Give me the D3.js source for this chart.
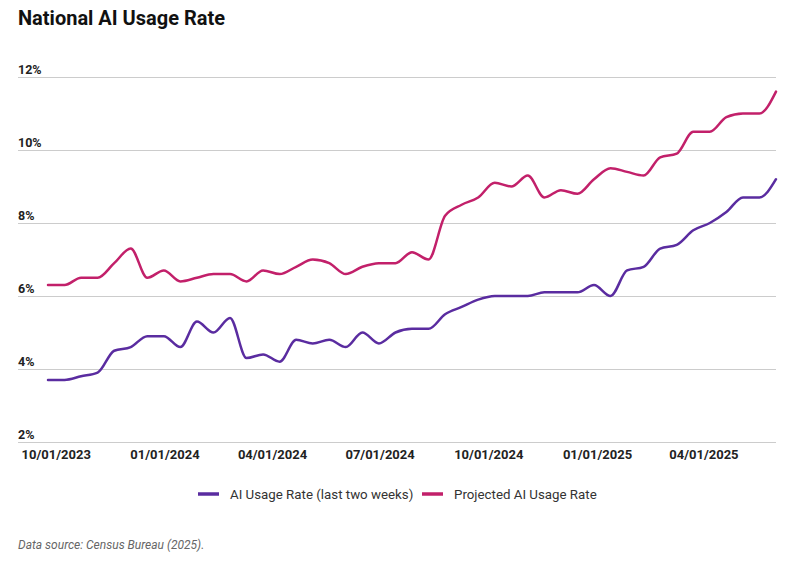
<!DOCTYPE html>
<html lang="en">
    <head>
        <meta charset="utf-8">
        <title>National AI Usage Rate</title>
        <script src="https://d3js.org/d3.v7.min.js"></script>
        <style>
            body { margin: 0; background: #fff; font-family: Roboto, "Noto Sans", sans-serif; }
        </style>
    </head>
    <body>
        <script type="text/javascript">

            var w = 789;
            var h = 565;

            // biweekly survey periods
            var dates = [
                "2023-09-24","2023-10-08","2023-10-22","2023-11-05","2023-11-19","2023-12-03","2023-12-17","2023-12-31",
                "2024-01-14","2024-01-28","2024-02-11","2024-02-25","2024-03-10","2024-03-24","2024-04-07","2024-04-21",
                "2024-05-05","2024-05-19","2024-06-02","2024-06-16","2024-06-30","2024-07-14","2024-07-28","2024-08-11",
                "2024-08-25","2024-09-08","2024-09-22","2024-10-06","2024-10-20","2024-11-03","2024-11-17","2024-12-01",
                "2024-12-15","2024-12-29","2025-01-12","2025-01-26","2025-02-09","2025-02-23","2025-03-09","2025-03-23",
                "2025-04-06","2025-04-20","2025-05-04","2025-05-18","2025-06-01"
            ];

            var usage = [3.7,3.7,3.8,3.9,4.5,4.6,4.9,4.9,4.6,5.3,
                         5.0,5.4,4.3,4.4,4.2,4.8,4.7,4.8,4.6,5.0,
                         4.7,5.0,5.1,5.1,5.5,5.7,5.9,6.0,6.0,6.0,
                         6.1,6.1,6.1,6.3,6.0,6.7,6.8,7.3,7.4,7.8,
                         8.0,8.3,8.7,8.7,9.2];

            var projected = [6.3,6.3,6.5,6.5,6.9,7.3,6.5,6.7,6.4,6.5,
                             6.6,6.6,6.4,6.7,6.6,6.8,7.0,6.9,6.6,6.8,
                             6.9,6.9,7.2,7.0,8.2,8.5,8.7,9.1,9.0,9.3,
                             8.7,8.9,8.8,9.2,9.5,9.4,9.3,9.8,9.9,10.5,
                             10.5,10.9,11.0,11.0,11.6];

            var yTicks = [2, 4, 6, 8, 10, 12];
            var xTicks = ["2023-10-01","2024-01-01","2024-04-01","2024-07-01","2024-10-01","2025-01-01","2025-04-01"];

            var seriesNames = ["AI Usage Rate (last two weeks)", "Projected AI Usage Rate"];
            var seriesColors = ["#5a2ca0", "#c2206a"];

            var parse = d3.timeParse("%Y-%m-%d");
            var fmt = d3.timeFormat("%m/%d/%Y");

            var svg = d3.select("body")
                        .append("svg")
                        .attr("width", w)
                        .attr("height", h);

            // title
            svg.append("text")
               .attr("x", 18)
               .attr("y", 25)
               .attr("font-size", 20)
               .attr("font-weight", 700)
               .attr("fill", "#111")
               .text("National AI Usage Rate");

            var x = d3.scaleTime()
                      .domain([parse(dates[0]), parse(dates[dates.length - 1])])
                      .range([48, 776]);

            var y = d3.scaleLinear()
                      .domain([2, 12])
                      .range([442, 77]);

            // gridlines + y labels
            var yAxis = svg.append("g");
            yAxis.selectAll("line")
                 .data(yTicks)
                 .enter()
                 .append("line")
                 .attr("x1", 18)
                 .attr("x2", 776)
                 .attr("y1", function(d) { return Math.round(y(d)) + 0.5; })
                 .attr("y2", function(d) { return Math.round(y(d)) + 0.5; })
                 .attr("stroke", "#cccccc")
                 .attr("stroke-width", 1);

            yAxis.selectAll("text")
                 .data(yTicks)
                 .enter()
                 .append("text")
                 .attr("x", 18)
                 .attr("y", function(d) { return y(d) - 3; })
                 .attr("font-size", 12.5)
                 .attr("font-weight", 700)
                 .attr("fill", "#222")
                 .text(function(d) { return d + "%"; });

            // x labels
            svg.append("g")
               .selectAll("text")
               .data(xTicks)
               .enter()
               .append("text")
               .attr("x", function(d) { return x(parse(d)); })
               .attr("y", 459)
               .attr("text-anchor", "middle")
               .attr("font-size", 13)
               .attr("font-weight", 700)
               .attr("fill", "#222")
               .text(function(d) { return fmt(parse(d)); });

            var line = d3.line()
                         .x(function(d, i) { return x(parse(dates[i])); })
                         .y(function(d) { return y(d); })
                         .curve(d3.curveMonotoneX);

            [usage, projected].forEach(function(s, k) {
                svg.append("path")
                   .datum(s)
                   .attr("d", line)
                   .attr("fill", "none")
                   .attr("stroke", seriesColors[k])
                   .attr("stroke-width", 2.5)
                   .attr("stroke-linejoin", "round")
                   .attr("stroke-linecap", "round");
            });

            // legend
            var legendX = [198, 422];
            var legend = svg.append("g");
            seriesNames.forEach(function(name, k) {
                legend.append("line")
                      .attr("x1", legendX[k])
                      .attr("x2", legendX[k] + 21)
                      .attr("y1", 494)
                      .attr("y2", 494)
                      .attr("stroke", seriesColors[k])
                      .attr("stroke-width", 3.5);
                legend.append("text")
                      .attr("x", legendX[k] + 32)
                      .attr("y", 498.5)
                      .attr("font-size", 13.3)
                      .attr("fill", "#333")
                      .text(name);
            });

            // source
            svg.append("text")
               .attr("x", 18)
               .attr("y", 549)
               .attr("font-size", 12)
               .attr("font-style", "italic")
               .attr("fill", "#666")
               .text("Data source: Census Bureau (2025).");

        </script>
    </body>
</html>
